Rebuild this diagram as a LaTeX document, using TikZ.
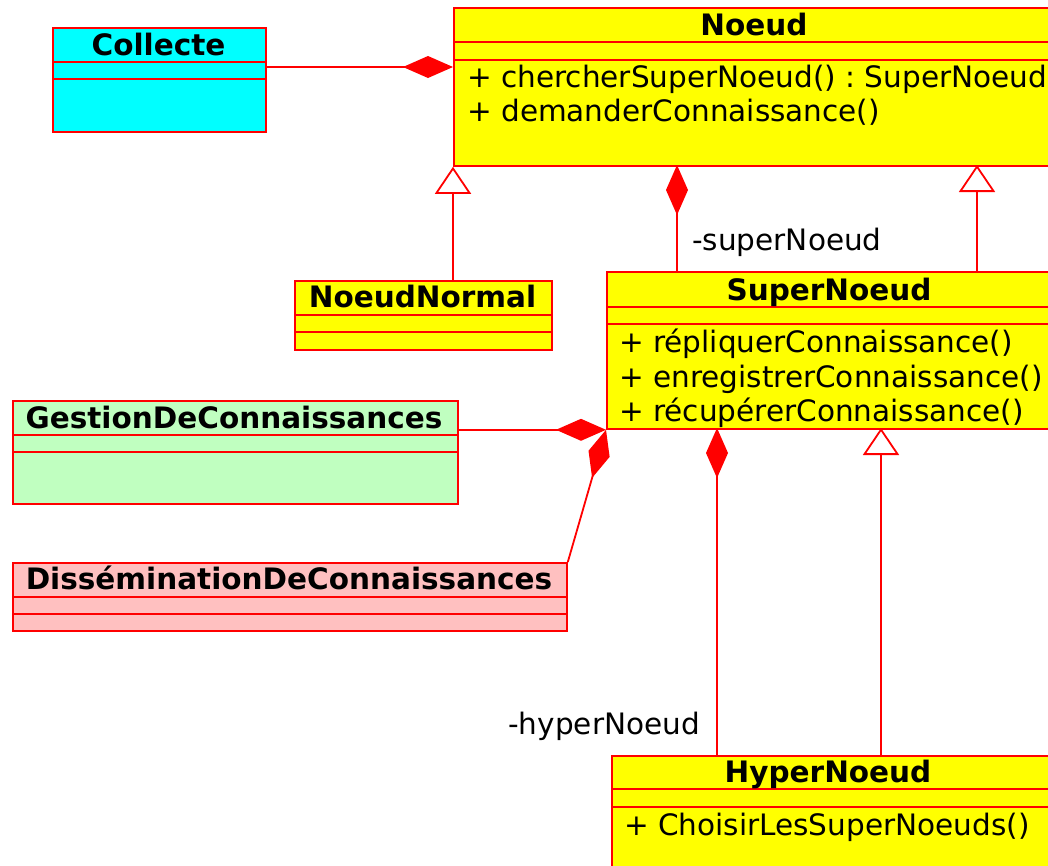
\documentclass[tikz,border=0pt]{standalone}
\usepackage{fontspec}
\setmainfont{DejaVu Sans}
\frenchspacing
\usetikzlibrary{arrows.meta,calc}
\definecolor{cyanfill}{RGB}{0,255,255}
\definecolor{yellowfill}{RGB}{255,255,0}
\definecolor{greenfill}{RGB}{192,255,192}
\definecolor{pinkfill}{RGB}{255,192,192}
\definecolor{umlred}{RGB}{255,0,0}
\tikzset{
  cls/.style={draw=umlred, line width=1.8pt, rectangle, anchor=north west, inner sep=0pt},
  sepline/.style={draw=umlred, line width=1.8pt},
  ttl/.style={font=\fontsize{29.5pt}{35pt}\selectfont\bfseries, anchor=base, inner sep=0pt},
  mth/.style={font=\fontsize{29.5pt}{35pt}\selectfont, anchor=base west, inner sep=0pt},
  role/.style={font=\fontsize{29.5pt}{35pt}\selectfont, inner sep=0pt},
  comp/.style={draw=umlred, line width=1.8pt, -{Diamond[length=50pt,width=22pt,fill=umlred]}},
  gen/.style={draw=umlred, line width=1.8pt, -{Triangle[length=27pt,width=36pt,fill=white]}},
}
\begin{document}
\begin{tikzpicture}[x=1pt,y=-1pt]
\useasboundingbox (0,0) rectangle (1048,865);
\clip (0,0) rectangle (1048,865);
% Collecte
\node[cls, fill=cyanfill, minimum width=213pt, minimum height=104pt] (collecte) at (52,27) {};
\draw[sepline] ($(collecte.north west)+(0,35)$) -- ($(collecte.north east)+(0,35)$);
\draw[sepline] ($(collecte.north west)+(0,52)$) -- ($(collecte.north east)+(0,52)$);
\node[ttl] (tcollecte) at (158.5,55) {Collecte};
% Noeud
\node[cls, fill=yellowfill, minimum width=602pt, minimum height=158pt] (noeud) at (453,7) {};
\draw[sepline] ($(noeud.north west)+(0,35)$) -- ($(noeud.north east)+(0,35)$);
\draw[sepline] ($(noeud.north west)+(0,53)$) -- ($(noeud.north east)+(0,53)$);
\node[ttl] (tnoeud) at (754,35) {Noeud};
\node[mth] (mn1) at (467,87) {+ chercherSuperNoeud() : SuperNoeud};
\node[mth] (mn2) at (467,121) {+ demanderConnaissance()};
% NoeudNormal
\node[cls, fill=yellowfill, minimum width=257pt, minimum height=69pt] (noeudnormal) at (294,280) {};
\draw[sepline] ($(noeudnormal.north west)+(0,35)$) -- ($(noeudnormal.north east)+(0,35)$);
\draw[sepline] ($(noeudnormal.north west)+(0,52)$) -- ($(noeudnormal.north east)+(0,52)$);
\node[ttl] (tnoeudnormal) at (422.5,307) {NoeudNormal};
% SuperNoeud
\node[cls, fill=yellowfill, minimum width=450pt, minimum height=157pt] (supernoeud) at (606,271) {};
\draw[sepline] ($(supernoeud.north west)+(0,36)$) -- ($(supernoeud.north east)+(0,36)$);
\draw[sepline] ($(supernoeud.north west)+(0,53)$) -- ($(supernoeud.north east)+(0,53)$);
\node[ttl] (tsupernoeud) at (829,300) {SuperNoeud};
\node[mth] (ms1) at (619,352) {+ répliquerConnaissance()};
\node[mth] (ms2) at (619,387) {+ enregistrerConnaissance()};
\node[mth] (ms3) at (619,421) {+ récupérerConnaissance()};
% GestionDeConnaissances
\node[cls, fill=greenfill, minimum width=445pt, minimum height=103pt] (gestion) at (12,400) {};
\draw[sepline] ($(gestion.north west)+(0,35)$) -- ($(gestion.north east)+(0,35)$);
\draw[sepline] ($(gestion.north west)+(0,52)$) -- ($(gestion.north east)+(0,52)$);
\node[ttl] (tgestion) at (234,428) {GestionDeConnaissances};
% DisseminationDeConnaissances
\node[cls, fill=pinkfill, minimum width=554pt, minimum height=68pt] (dissem) at (12,562) {};
\draw[sepline] ($(dissem.north west)+(0,35)$) -- ($(dissem.north east)+(0,35)$);
\draw[sepline] ($(dissem.north west)+(0,52)$) -- ($(dissem.north east)+(0,52)$);
\node[ttl] (tdissem) at (289,589) {DisséminationDeConnaissances};
% HyperNoeud
\node[cls, fill=yellowfill, minimum width=445pt, minimum height=130pt] (hypernoeud) at (611,755) {};
\draw[sepline] ($(hypernoeud.north west)+(0,34)$) -- ($(hypernoeud.north east)+(0,34)$);
\draw[sepline] ($(hypernoeud.north west)+(0,52)$) -- ($(hypernoeud.north east)+(0,52)$);
\node[ttl] (thypernoeud) at (828,782) {HyperNoeud};
\node[mth] (mh1) at (624,835) {+ ChoisirLesSuperNoeuds()};
% connector anchor coordinates
\coordinate (cn) at ($(noeud.north west)+(0,60)$);
\coordinate (g1) at (977,165);
\coordinate (d1) at (677,165);
\coordinate (d2) at (717,428);
\coordinate (g3) at (881,428);
% connectors
\draw[comp] (collecte.east |- cn) -- (cn);
\draw[gen] (noeudnormal.north -| noeud.south west) -- (noeud.south west);
\draw[gen] (supernoeud.north -| g1) -- (g1);
\draw[comp] (supernoeud.north -| d1) -- (d1);
\draw[comp] (gestion.east |- supernoeud.south west) -- (supernoeud.south west);
\draw[comp] (dissem.north east) -- (supernoeud.south west);
\draw[comp] (hypernoeud.north -| d2) -- (d2);
\draw[gen] (hypernoeud.north -| g3) -- (g3);
% role labels
\node[role, anchor=base west] (rsuper) at (692,250) {-superNoeud};
\node[role, anchor=base east] (rhyper) at (700,734) {-hyperNoeud};
\end{tikzpicture}
\end{document}
